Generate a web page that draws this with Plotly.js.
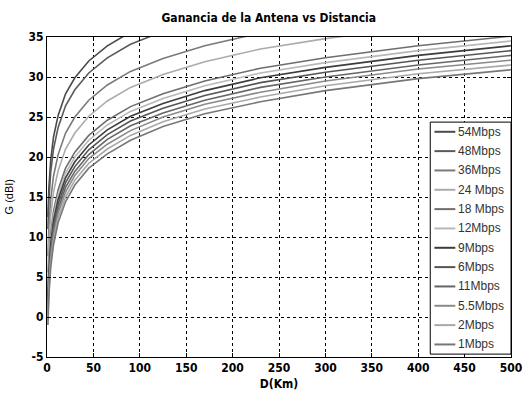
<!DOCTYPE html>
<html>
<head>
<meta charset="utf-8">
<script src="https://cdn.plot.ly/plotly-3.0.1.min.js"></script>
<style>html,body{margin:0;padding:0;background:#fff;}#chart{width:527px;height:396px;}</style>
</head>
<body>
<div id="chart"></div>
<script>
// Distance samples (km)
const distKm = [1, 2, 4, 7, 12, 20, 30, 45, 65, 90, 125, 170, 230, 300, 400, 500];

// Antenna gain (dBi), per data rate
const g54  = [12.5, 16.1, 19.6, 22.5, 25.2, 27.9, 29.9, 32.0, 33.9, 35.6];
const g48  = [11.0, 14.6, 18.1, 21.0, 23.7, 26.4, 28.4, 30.5, 32.4, 34.1, 35.7];
const g36  = [7.6, 11.2, 14.7, 17.6, 20.3, 23.0, 25.0, 27.1, 29.0, 30.7, 32.3, 33.9, 35.5];
const g24  = [5.6, 9.2, 12.7, 15.6, 18.3, 21.0, 23.0, 25.1, 27.0, 28.7, 30.3, 31.9, 33.5, 34.8, 36.3];
const g18  = [3.2, 6.8, 10.3, 13.2, 15.9, 18.6, 20.6, 22.7, 24.6, 26.3, 27.9, 29.5, 31.1, 32.4, 33.9, 35.1];
const g12  = [2.6, 6.2, 9.7, 12.6, 15.3, 18.0, 20.0, 22.1, 24.0, 25.7, 27.3, 28.9, 30.5, 31.8, 33.3, 34.5];
const g9   = [2.0, 5.6, 9.1, 12.0, 14.7, 17.4, 19.4, 21.5, 23.4, 25.1, 26.7, 28.3, 29.9, 31.2, 32.7, 33.9];
const g6   = [1.4, 5.0, 8.5, 11.4, 14.1, 16.8, 18.8, 20.9, 22.8, 24.5, 26.1, 27.7, 29.3, 30.6, 32.1, 33.3];
const g11  = [0.8, 4.4, 7.9, 10.8, 13.5, 16.2, 18.2, 20.3, 22.2, 23.9, 25.5, 27.1, 28.7, 30.0, 31.5, 32.7];
const g5_5 = [0.3, 3.8, 7.4, 10.2, 13.0, 15.6, 17.7, 19.8, 21.6, 23.3, 25.0, 26.6, 28.1, 29.5, 31.0, 32.1];
const g2   = [-0.4, 3.2, 6.8, 9.6, 12.4, 15.0, 17.1, 19.2, 21.0, 22.7, 24.4, 26.0, 27.5, 28.9, 30.4, 31.5];
const g1   = [-1.0, 2.6, 6.2, 9.0, 11.8, 14.4, 16.5, 18.6, 20.4, 22.1, 23.8, 25.4, 26.9, 28.3, 29.8, 30.9];

const seriesNames = ["54Mbps", "48Mbps", "36Mbps", "24 Mbps", "18 Mbps", "12Mbps", "9Mbps", "6Mbps", "11Mbps", "5.5Mbps", "2Mbps", "1Mbps"];
const seriesValues = [g54, g48, g36, g24, g18, g12, g9, g6, g11, g5_5, g2, g1];
const seriesColors = ["#4a4a4a", "#5a5a5a", "#7a7a7a", "#ababab", "#6e6e6e", "#b8b8b8", "#3c3c3c", "#555555", "#666666", "#8a8a8a", "#a8a8a8", "#777777"];

const xTicks = [0, 50, 100, 150, 200, 250, 300, 350, 400, 450, 500];
const yTicks = [-5, 0, 5, 10, 15, 20, 25, 30, 35];

const traces = seriesNames.map((name, i) => ({
  type: "scatter",
  mode: "lines",
  name: name,
  x: distKm.slice(0, seriesValues[i].length),
  y: seriesValues[i],
  line: { color: seriesColors[i], width: 1.6 },
  hoverinfo: "skip"
}));

const condFont = "DejaVu Sans Condensed, Liberation Sans Narrow, Arial Narrow, sans-serif";
const tickFont = { family: condFont, size: 12, color: "#000" };

// Custom legend (box + line samples + labels), laid out in plot-area fractions
const legLeft = 0.826, legRight = 1.0, legTop = 0.734, legBottom = 0.009;
const rowH = (legTop - legBottom) / seriesNames.length;
const shapes = [{
  type: "rect", xref: "paper", yref: "paper",
  x0: legLeft, x1: legRight, y0: legBottom, y1: legTop,
  line: { color: "#000", width: 1 }, fillcolor: "#fff", layer: "above"
}];
const annotations = [];
seriesNames.forEach((name, i) => {
  const yc = legTop - rowH * (i + 0.5);
  shapes.push({
    type: "line", xref: "paper", yref: "paper",
    x0: legLeft + 0.009, x1: legLeft + 0.054, y0: yc, y1: yc,
    line: { color: seriesColors[i], width: 2 }, layer: "above"
  });
  annotations.push({
    xref: "paper", yref: "paper", x: legLeft + 0.055, y: yc,
    xanchor: "left", yanchor: "middle", showarrow: false,
    text: name, font: { family: "Liberation Sans, Arial, sans-serif", size: 12, color: "#333" }
  });
});
annotations.push({
  xref: "paper", yref: "paper", x: -0.081, y: 0.5, xanchor: "center", yanchor: "middle",
  showarrow: false, textangle: -90, text: "G (dBI)",
  font: { family: "Liberation Sans, Arial, sans-serif", size: 11, color: "#000" }
});

const layout = {
  width: 527,
  height: 396,
  margin: { l: 47, r: 16, t: 37, b: 39 },
  paper_bgcolor: "#fff",
  plot_bgcolor: "#fff",
  showlegend: false,
  title: {
    text: "<b>Ganancia de la Antena vs Distancia</b>",
    font: { family: condFont, size: 12, color: "#000" },
    x: 0.51, xanchor: "center", y: 0.955, yanchor: "middle"
  },
  xaxis: {
    range: [0, 500],
    tickvals: xTicks,
    ticktext: xTicks.map(v => "<b>" + v + "</b>"),
    tickfont: tickFont,
    ticks: "inside", ticklen: 4, tickcolor: "#000",
    showline: true, linecolor: "#000", linewidth: 1, mirror: "ticks",
    showgrid: true, gridcolor: "#000", griddash: "3px,3px", gridwidth: 1,
    zeroline: false,
    title: { text: "<b>D(Km)</b>", font: tickFont, standoff: 5 }
  },
  yaxis: {
    range: [-5, 35],
    tickvals: yTicks,
    ticktext: yTicks.map(v => "<b>" + v + "</b>"),
    tickfont: tickFont,
    ticks: "inside", ticklen: 4, tickcolor: "#000",
    showline: true, linecolor: "#000", linewidth: 1, mirror: "ticks",
    showgrid: true, gridcolor: "#000", griddash: "3px,3px", gridwidth: 1,
    zeroline: false
  },
  shapes: shapes,
  annotations: annotations
};

Plotly.newPlot("chart", traces, layout, { staticPlot: true, displayModeBar: false });
</script>
</body>
</html>
